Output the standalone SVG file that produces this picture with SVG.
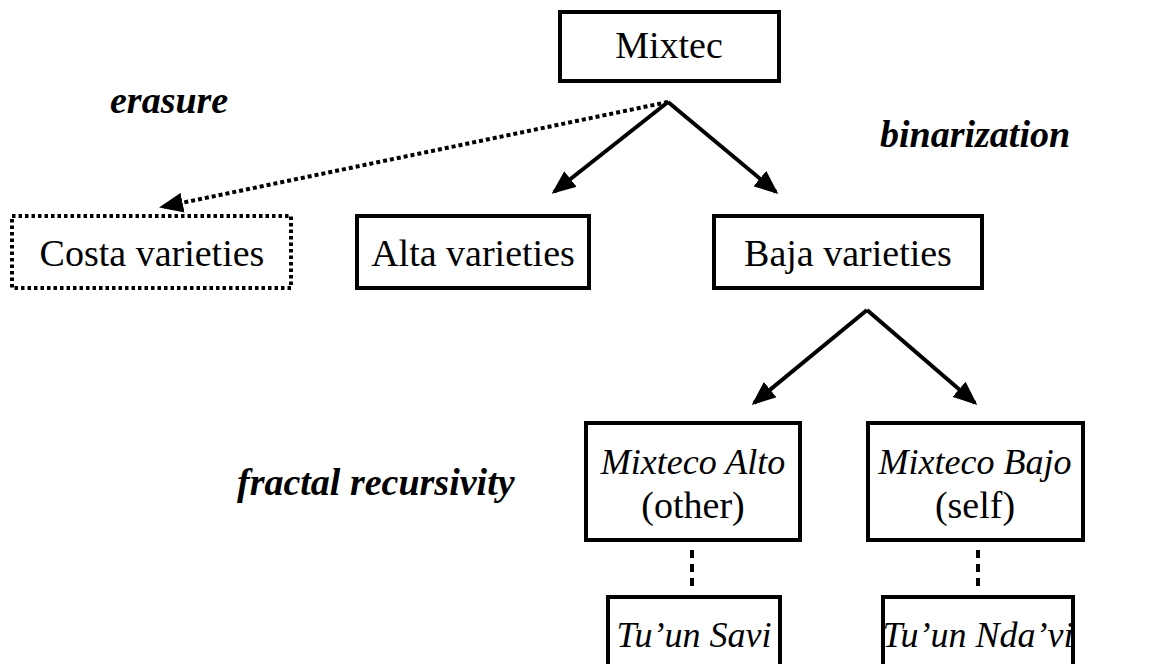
<svg xmlns="http://www.w3.org/2000/svg" width="1160" height="664" viewBox="0 0 1160 664">
<style>
.box{fill:#fff;stroke:#000;stroke-width:4}
.dbox{fill:#fff;stroke:#000;stroke-width:4;stroke-dasharray:3.5 3}
.t{font-family:"Liberation Serif","Times New Roman",serif;font-size:38px;fill:#000;text-anchor:middle}
.i{font-style:italic;font-size:36px}
.lbl{font-family:"Liberation Serif","Times New Roman",serif;font-size:38px;font-weight:bold;font-style:italic;fill:#000}
.c{fill:none;stroke:#000;stroke-width:4}
.cd{fill:none;stroke:#000;stroke-width:4;stroke-dasharray:4 3}
</style>
<defs>
<marker id="ah" viewBox="0 0 12 10" refX="10.5" refY="5" markerWidth="6" markerHeight="5" markerUnits="strokeWidth" orient="auto">
<path d="M0,0 L12,5 L0,10 Z" fill="#000"/>
</marker>
</defs>
<rect width="1160" height="664" fill="#fff"/>
<g id="labels">
<text class="lbl" x="110" y="113">erasure</text>
<text class="lbl" x="880" y="147">binarization</text>
<text class="lbl" x="237" y="495">fractal recursivity</text>
</g>
<g id="connectors">
<path class="cd" d="M668,102 L162,207" marker-end="url(#ah)"/>
<path class="c" d="M668,102 L554,192" marker-end="url(#ah)"/>
<path class="c" d="M668,102 L776,192" marker-end="url(#ah)"/>
<path class="c" d="M867,310 L754,403" marker-end="url(#ah)"/>
<path class="c" d="M867,310 L975,403" marker-end="url(#ah)"/>
<path class="c" d="M692,550 L692,586" stroke-dasharray="8 6"/>
<path class="c" d="M978,550 L978,586" stroke-dasharray="8 6"/>
</g>
<g id="mixtec">
<rect class="box" x="560" y="12" width="219" height="69"/>
<text class="t" x="669" y="58">Mixtec</text>
</g>
<g id="costa">
<rect class="dbox" x="12" y="216" width="279" height="72"/>
<text class="t" x="152" y="266">Costa varieties</text>
</g>
<g id="alta">
<rect class="box" x="357" y="216" width="232" height="72"/>
<text class="t" x="473" y="266">Alta varieties</text>
</g>
<g id="baja">
<rect class="box" x="714" y="216" width="268" height="72"/>
<text class="t" x="848" y="266">Baja varieties</text>
</g>
<g id="mixteco-alto">
<rect class="box" x="586" y="423" width="214" height="117"/>
<text class="t i" x="693" y="474">Mixteco Alto</text>
<text class="t" x="693" y="518">(other)</text>
</g>
<g id="mixteco-bajo">
<rect class="box" x="868" y="423" width="215" height="117"/>
<text class="t i" x="975" y="474">Mixteco Bajo</text>
<text class="t" x="975" y="518">(self)</text>
</g>
<g id="tuun-savi">
<rect class="box" x="608" y="597" width="172" height="80"/>
<text class="t i" x="694" y="647">Tu’un Savi</text>
</g>
<g id="tuun-ndavi">
<rect class="box" x="883" y="597" width="190" height="80"/>
<text class="t i" x="978" y="647">Tu’un Nda’vi</text>
</g>
</svg>
